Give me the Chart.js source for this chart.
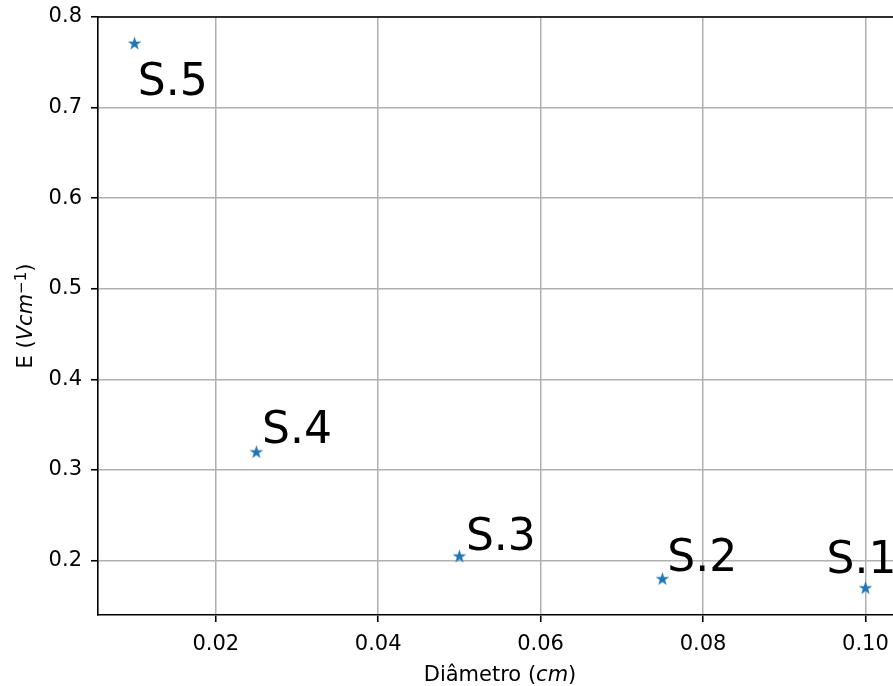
<!DOCTYPE html>
<html>
<head>
<meta charset="utf-8">
<script src="https://cdn.jsdelivr.net/npm/chart.js@4.4.1/dist/chart.umd.min.js"></script>
<style>
  html, body { margin: 0; padding: 0; background: #fff; overflow: hidden; }
  canvas { display: block; }
</style>
</head>
<body>
<canvas id="chart" width="910" height="686"></canvas>
<script>
// sample data: diameter (cm) vs field E (V/cm)
const diam   = [0.100, 0.075, 0.050, 0.025, 0.010];
const field  = [0.170, 0.180, 0.205, 0.320, 0.771];
const names  = ['S.1', 'S.2', 'S.3', 'S.4', 'S.5'];
// where each name is anchored, in data units (left / baseline)
const nameX  = [0.0952, 0.0756, 0.0508, 0.0257, 0.0104];
const nameY  = [0.1868, 0.1882, 0.2121, 0.3301, 0.7140];
const xTicks = [0.02, 0.04, 0.06, 0.08, 0.10];
const yTicks = [0.2, 0.3, 0.4, 0.5, 0.6, 0.7, 0.8];

const FONT = "'DejaVu Sans', sans-serif";
const BLUE = '#1f77b4';

// filled five point star like matplotlib's '*'
function starMarker(size, color) {
  const cv = document.createElement('canvas');
  cv.width = cv.height = size;
  const g = cv.getContext('2d');
  const cx = size / 2, cy = size / 2 + 0.5, R = 7.2, r = R * 0.382;
  g.beginPath();
  for (let i = 0; i < 10; i++) {
    const a = -Math.PI / 2 + i * Math.PI / 5;
    const rad = i % 2 ? r : R;
    g.lineTo(cx + rad * Math.cos(a), cy + rad * Math.sin(a));
  }
  g.closePath();
  g.fillStyle = color;
  g.fill();
  return cv;
}

// draw pieces of text with different fonts one after another
function drawRuns(ctx, runs, x, y) {
  let w = 0;
  runs.forEach(r => { ctx.font = r.font; w += ctx.measureText(r.t).width; });
  let cx = x - w / 2;
  runs.forEach(r => {
    ctx.font = r.font;
    ctx.fillText(r.t, cx, y - (r.dy || 0));
    cx += ctx.measureText(r.t).width;
  });
}

const framePlugin = {
  id: 'frame',
  afterDraw(chart) {
    const {ctx, chartArea: a} = chart;
    ctx.save();
    ctx.strokeStyle = '#000';
    ctx.lineWidth = 1.6;
    ctx.beginPath();
    ctx.moveTo(a.left - 0.8, a.top);
    ctx.lineTo(a.right, a.top);
    ctx.lineTo(a.right, a.bottom);
    ctx.stroke();
    ctx.restore();
  }
};

const namesPlugin = {
  id: 'names',
  afterDatasetsDraw(chart) {
    const {ctx, scales: {x, y}} = chart;
    ctx.save();
    ctx.fillStyle = '#000';
    ctx.font = '44px ' + FONT;
    ctx.textAlign = 'left';
    ctx.textBaseline = 'alphabetic';
    names.forEach((n, i) => ctx.fillText(n, x.getPixelForValue(nameX[i]), y.getPixelForValue(nameY[i])));
    ctx.restore();
  }
};

const titlesPlugin = {
  id: 'titles',
  afterDraw(chart) {
    const {ctx, chartArea: a} = chart;
    const reg = '21px ' + FONT, ita = 'italic 21px ' + FONT, sup = '15px ' + FONT;
    ctx.save();
    ctx.fillStyle = '#000';
    ctx.textAlign = 'left';
    ctx.textBaseline = 'alphabetic';
    drawRuns(ctx, [
      {t: 'Diâmetro (', font: reg},
      {t: 'cm', font: ita},
      {t: ')', font: reg}
    ], (a.left + a.right) / 2, 681);

    ctx.translate(31.5, (a.top + a.bottom) / 2);
    ctx.rotate(-Math.PI / 2);
    drawRuns(ctx, [
      {t: 'E (', font: reg},
      {t: 'Vcm', font: ita},
      {t: '−1', font: sup, dy: 6},
      {t: ')', font: reg}
    ], 0, 0);
    ctx.restore();
  }
};

const axisStyle = {
  grid: {color: '#b0b0b0', lineWidth: 1.5, tickColor: '#000', tickLength: 7, tickWidth: 1.6},
  border: {color: '#000', width: 1.6}
};

new Chart(document.getElementById('chart').getContext('2d'), {
  type: 'scatter',
  data: {
    datasets: [{
      data: diam.map((d, i) => ({x: d, y: field[i]})),
      pointStyle: starMarker(17, BLUE),
      pointRadius: 7,
      backgroundColor: BLUE,
      borderColor: BLUE
    }]
  },
  options: {
    responsive: false,
    animation: false,
    layout: {padding: {top: 17, right: 7, left: 0, bottom: 0}},
    plugins: {legend: {display: false}, tooltip: {enabled: false}},
    scales: {
      x: {
        type: 'linear', min: 0.0055, max: 0.1045,
        afterBuildTicks: s => { s.ticks = xTicks.map(v => ({value: v})); },
        afterFit: s => { s.height = 71; s.paddingLeft = 0; s.paddingRight = 0; },
        ...axisStyle,
        ticks: {color: '#000', font: {family: FONT, size: 21}, padding: 10, autoSkip: false, maxRotation: 0,
                callback: v => v.toFixed(2)}
      },
      y: {
        type: 'linear', min: 0.14, max: 0.80,
        afterBuildTicks: s => { s.ticks = yTicks.map(v => ({value: v})); },
        afterFit: s => { s.width = 98; s.paddingTop = 0; s.paddingBottom = 0; },
        ...axisStyle,
        ticks: {color: '#000', font: {family: FONT, size: 21}, padding: 9, autoSkip: false,
                callback: v => v.toFixed(1)}
      }
    }
  },
  plugins: [framePlugin, namesPlugin, titlesPlugin]
});
</script>
</body>
</html>
